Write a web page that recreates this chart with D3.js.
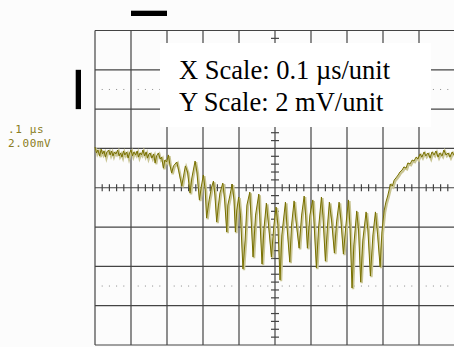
<!DOCTYPE html>
<html>
<head>
<meta charset="utf-8">
<script src="https://cdn.jsdelivr.net/npm/d3@7"></script>
<style>
  body { margin: 0; background: #fcfcfc; }
  svg { display: block; }
</style>
</head>
<body>
<div id="scope"></div>
<script>
const WIDTH = 454;
const HEIGHT = 347;
const PLOT = { left: 95, right: 455, top: 30.5, bottom: 345 };

// scope settings: 10 x 8 divisions, 100 ns/div and 2 mV/div
const timeDomain = [0, 1000];
const voltDomain = [-8, 8];
const majorTimes = d3.range(0, 1001, 100);
const majorVolts = d3.range(-8, 8.1, 2);
const minorTimes = d3.range(0, 1001, 20);
const minorVolts = d3.range(-8, 8.01, 0.4);
const dottedVolts = [5, -5];

const scaleLabels = ['X Scale: 0.1 \u00b5s/unit', 'Y Scale: 2 mV/unit'];
const sideLabels = ['.1 \u00b5s', '2.00mV'];

// trace (time in ns, voltage in mV)
const traceTime = [
  0, 4, 8, 13, 17, 21, 25, 29, 33, 38, 42, 46, 50, 54, 58, 63, 67, 71, 75, 79,
  83, 88, 92, 96, 100, 104, 108, 113, 117, 121, 125, 129, 133, 138, 142, 146, 150,
  153, 158, 163, 167, 171, 176, 181, 185, 190, 194, 199, 204, 208, 213, 218, 227,
  232, 241, 246, 251, 257, 264, 269, 278, 283, 290, 296, 301, 306, 310, 317, 324,
  329, 333, 338, 343, 347, 355, 360, 366, 369, 375, 381, 386, 390, 394, 399, 404,
  411, 417, 422, 430, 433, 439, 446, 455, 458, 464, 469, 476, 482, 490, 497, 503,
  508, 514, 519, 529, 533, 541, 546, 553, 558, 567, 574, 581, 585, 590, 597, 605,
  608, 615, 621, 629, 633, 640, 646, 651, 657, 665, 671, 678, 683, 690, 697, 704,
  708, 714, 719, 727, 732, 738, 744, 753, 758, 765, 772, 779, 785, 792, 797, 803,
  808, 813, 817, 821, 826, 831, 836, 842, 847, 853, 858, 864, 869, 875, 881, 886,
  892, 897, 903, 908, 914, 919, 925, 931, 936, 942, 947, 953, 958, 964, 969, 975,
  981, 986, 992, 997
];
const traceVolt = [
  2.07, 1.77, 1.92, 1.62, 1.97, 1.72, 1.87, 1.56, 1.82, 1.92, 1.67, 1.87, 1.62, 1.82,
  1.72, 1.92, 1.62, 1.77, 1.56, 1.87, 1.67, 1.82, 1.51, 1.77, 1.92, 1.62, 1.82, 1.67,
  1.87, 1.56, 1.77, 1.67, 1.92, 1.62, 1.82, 1.51, 1.72,
  1.77, 1.51, 1.72, 1.26, 1.62, 1.77, 1.46, 1.56, 1.00, 1.41, 1.31, 1.67, 1.16, 0.75,
  1.11, 1.31, 0.90, 0.09, 0.60, 1.11, 0.80, -0.27, 0.50, 1.36, 0.80, -0.62, 0.14, 0.65,
  -0.11, -1.54, -0.62, 0.04, 0.34, -0.37, -1.74, -0.88, -0.27, 0.24, -0.62, -2.25,
  -0.88, -0.37, 0.19, -0.62, -2.25, -1.13, -0.47, -1.39,
  -4.13, -2.66, -0.88, -0.22, -1.39, -3.52, -1.39, -0.32, -1.64, -3.88, -2.15, -0.78,
  -1.90, -3.52, -1.90, -0.98, -1.90, -4.69, -2.40, -0.73, -1.90, -3.78, -1.90, -0.67,
  -1.64, -3.07, -1.39, -0.42, -1.39, -3.07, -1.39, -0.62, -1.64, -4.08, -2.05, -0.47,
  -1.39, -3.73, -1.90, -0.73, -1.64, -3.32, -1.74, -0.73, -1.64, -3.37, -1.90, -0.62,
  -1.90, -5.10, -2.91, -1.18, -2.15, -4.80, -2.66, -1.23, -2.15, -4.49, -2.40, -1.23,
  -2.40, -4.03, -2.25, -1.18,
  -0.73, -0.42, -0.11, 0.19, 0.09, 0.39, 0.50, 0.65, 0.80, 0.90, 1.06, 1.00, 1.26, 1.21,
  1.41, 1.36, 1.56, 1.46, 1.72, 1.56, 1.82, 1.62, 1.77, 1.51, 1.82, 1.67, 1.87, 1.56,
  1.77, 1.62, 1.92, 1.67, 1.77, 1.56, 1.82, 1.67
];

const x = d3.scaleLinear().domain(timeDomain).range([PLOT.left, PLOT.right]);
const y = d3.scaleLinear().domain(voltDomain).range([PLOT.bottom, PLOT.top]);

const svg = d3
  .select('#scope')
  .append('svg')
  .attr('width', WIDTH)
  .attr('height', HEIGHT);

svg.append('rect').attr('width', WIDTH).attr('height', HEIGHT).attr('fill', '#fcfcfc');

// grid
const grid = svg.append('g').attr('stroke', '#444').attr('stroke-width', 1.2);
grid
  .selectAll('line.v')
  .data(majorTimes)
  .join('line')
  .attr('class', 'v')
  .attr('x1', (d) => x(d))
  .attr('x2', (d) => x(d))
  .attr('y1', PLOT.top)
  .attr('y2', PLOT.bottom);
grid
  .selectAll('line.h')
  .data(majorVolts)
  .join('line')
  .attr('class', 'h')
  .attr('x1', PLOT.left)
  .attr('x2', PLOT.right)
  .attr('y1', (d) => y(d))
  .attr('y2', (d) => y(d));

// minor ticks on the centre axes
grid
  .selectAll('line.tx')
  .data(minorTimes.filter((d) => d % 100 !== 0))
  .join('line')
  .attr('class', 'tx')
  .attr('x1', (d) => x(d))
  .attr('x2', (d) => x(d))
  .attr('y1', y(0) - 3.5)
  .attr('y2', y(0) + 3.5);
grid
  .selectAll('line.ty')
  .data(minorVolts.filter((d) => Math.abs(d / 2 - Math.round(d / 2)) > 0.01))
  .join('line')
  .attr('class', 'ty')
  .attr('x1', x(500) - 4)
  .attr('x2', x(500) + 4)
  .attr('y1', (d) => y(d))
  .attr('y2', (d) => y(d));

// dotted rows
const dots = [];
dottedVolts.forEach((v) =>
  minorTimes.filter((t) => t % 100 !== 0).forEach((t) => dots.push({ t, v }))
);
svg
  .append('g')
  .selectAll('rect')
  .data(dots)
  .join('rect')
  .attr('x', (d) => x(d.t) - 0.5)
  .attr('y', (d) => y(d.v) - 0.5)
  .attr('width', 1)
  .attr('height', 1)
  .attr('fill', '#8a8a8a');

// trace: light halo under the dark line
const line = d3
  .line()
  .x((d, i) => x(traceTime[i]))
  .y((d) => y(d));
svg
  .append('path')
  .datum(traceVolt)
  .attr('d', line)
  .attr('fill', 'none')
  .attr('stroke', '#c9c594')
  .attr('stroke-width', 2.4)
  .attr('transform', 'translate(1,1.2)');
svg
  .append('path')
  .datum(traceVolt)
  .attr('d', line)
  .attr('fill', 'none')
  .attr('stroke', '#787000')
  .attr('stroke-width', 1);

// scale bars: one division each
svg
  .append('rect')
  .attr('x', x(100))
  .attr('y', 10.7)
  .attr('width', x(200) - x(100))
  .attr('height', 5.3)
  .attr('fill', '#000');
svg
  .append('rect')
  .attr('x', 75.7)
  .attr('y', y(6))
  .attr('width', 5.3)
  .attr('height', y(4) - y(6))
  .attr('fill', '#000');

// side labels
svg
  .selectAll('text.side')
  .data(sideLabels)
  .join('text')
  .attr('class', 'side')
  .attr('x', 8)
  .attr('y', (d, i) => 133 + i * 14)
  .attr('fill', '#8a7c22')
  .style('font-family', '"DejaVu Sans Mono", monospace')
  .style('font-size', '11px')
  .style('letter-spacing', '0.6px')
  .text((d) => d);

// scale box
svg
  .append('rect')
  .attr('x', 160)
  .attr('y', 43)
  .attr('width', 271)
  .attr('height', 84)
  .attr('fill', '#ffffff');
svg
  .selectAll('text.scale')
  .data(scaleLabels)
  .join('text')
  .attr('class', 'scale')
  .attr('x', 179)
  .attr('y', (d, i) => 79 + i * 32)
  .attr('fill', '#000')
  .style('font-family', '"Liberation Serif", "Times New Roman", serif')
  .style('font-size', '26.5px')
  .text((d) => d);
</script>
</body>
</html>
